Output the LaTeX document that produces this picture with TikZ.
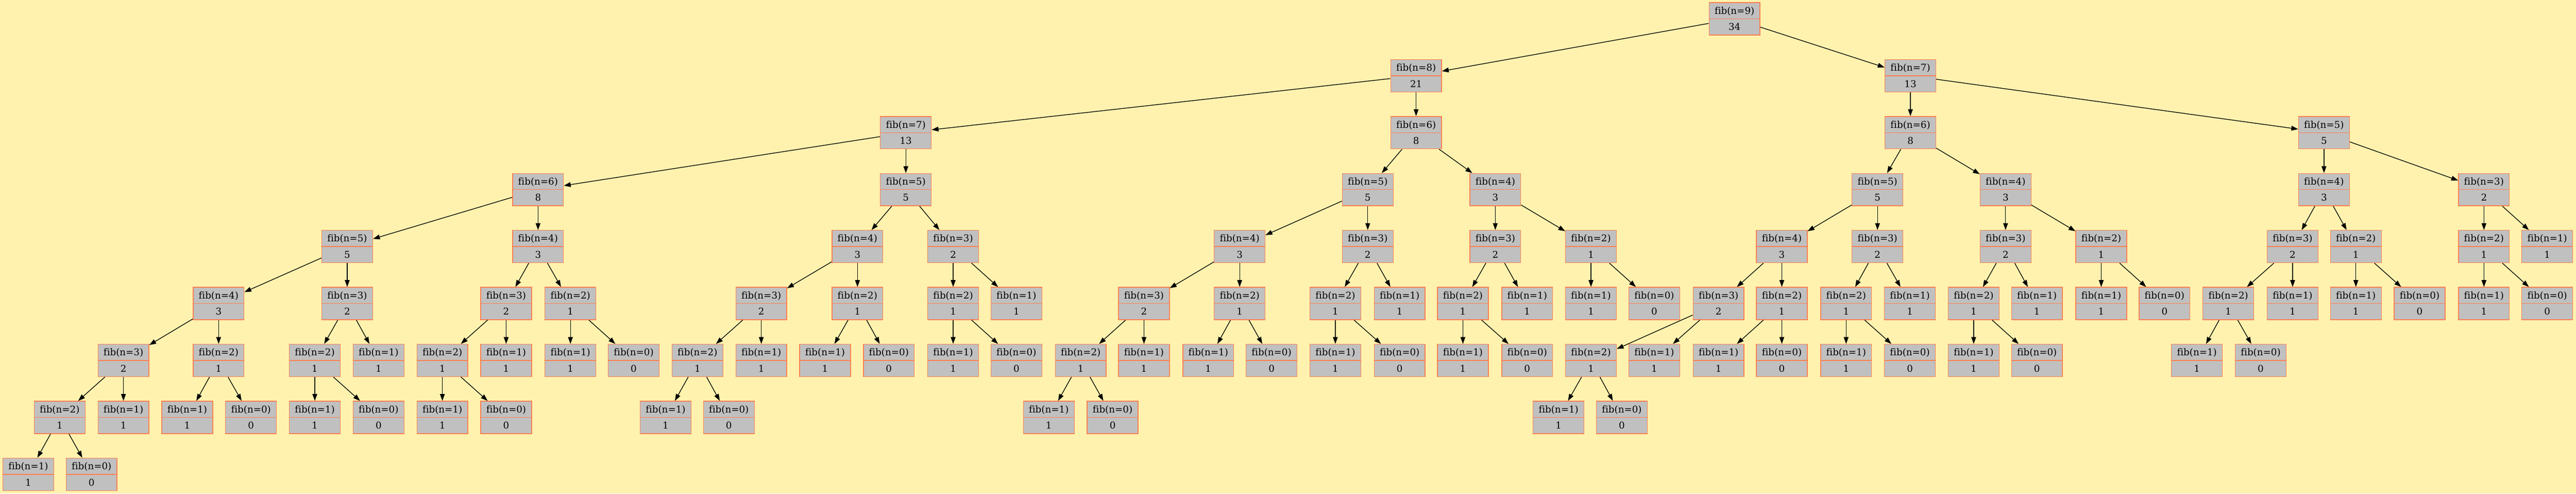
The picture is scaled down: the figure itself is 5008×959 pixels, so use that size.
\documentclass[tikz,border=0pt]{standalone}
\usepackage{fontspec}
\newfontfamily\fibfont{DejaVu Serif}[Ligatures=NoCommon]
\usetikzlibrary{shapes.multipart,arrows.meta}
\definecolor{bgyellow}{HTML}{FFF2AE}
\definecolor{boxgray}{HTML}{C0C0C0}
\definecolor{boxline}{HTML}{FF7F50}
\tikzset{
  fibbox/.style={rectangle split, rectangle split parts=2, draw=boxline, fill=boxgray,
    line width=1.33pt, minimum width=99pt, inner xsep=0pt, inner ysep=0pt,
    font=\fibfont\fontsize{18.3pt}{22pt}\selectfont},
  fibedge/.style={draw=black, line width=1.33pt, -{Triangle[length=13.3pt,width=9.3pt]}}
}
\newcommand\fibnode[5]{\node[fibbox] (#1) at (#2,{36.5+110.6*#3}) {\rule[-8.6pt]{0pt}{30.15pt}fib(n=#4)\nodepart{two}\rule[-8.6pt]{0pt}{30.15pt}#5};}
\begin{document}
\begin{tikzpicture}[x=1pt,y=-1pt]
\fill[bgyellow] (0,0) rectangle (5008,959);
\useasboundingbox (0,0) rectangle (5008,959);
% level 0
\fibnode{r}{3372}{0}{9}{34}
% level 1
\fibnode{ra}{2753}{1}{8}{21}
\fibnode{rb}{3714}{1}{7}{13}
% level 2
\fibnode{raa}{1761}{2}{7}{13}
\fibnode{rab}{2753}{2}{6}{8}
\fibnode{rba}{3714}{2}{6}{8}
\fibnode{rbb}{4518}{2}{5}{5}
% level 3
\fibnode{raaa}{1046}{3}{6}{8}
\fibnode{raab}{1761}{3}{5}{5}
\fibnode{raba}{2659}{3}{5}{5}
\fibnode{rabb}{2907}{3}{4}{3}
\fibnode{rbaa}{3650}{3}{5}{5}
\fibnode{rbab}{3899}{3}{4}{3}
\fibnode{rbba}{4518}{3}{4}{3}
\fibnode{rbbb}{4829}{3}{3}{2}
% level 4
\fibnode{raaaa}{675}{4}{5}{5}
\fibnode{raaab}{1046}{4}{4}{3}
\fibnode{raaba}{1667}{4}{4}{3}
\fibnode{raabb}{1853}{4}{3}{2}
\fibnode{rabaa}{2410}{4}{4}{3}
\fibnode{rabab}{2659}{4}{3}{2}
\fibnode{rabba}{2907}{4}{3}{2}
\fibnode{rabbb}{3093}{4}{2}{1}
\fibnode{rbaaa}{3464}{4}{4}{3}
\fibnode{rbaab}{3650}{4}{3}{2}
\fibnode{rbaba}{3899}{4}{3}{2}
\fibnode{rbabb}{4085}{4}{2}{1}
\fibnode{rbbaa}{4457}{4}{3}{2}
\fibnode{rbbab}{4580}{4}{2}{1}
\fibnode{rbbba}{4829}{4}{2}{1}
\fibnode{rbbbb}{4952}{4}{1}{1}
% level 5
\fibnode{raaaaa}{425}{5}{4}{3}
\fibnode{raaaab}{675}{5}{3}{2}
\fibnode{raaaba}{984}{5}{3}{2}
\fibnode{raaabb}{1109}{5}{2}{1}
\fibnode{raabaa}{1480}{5}{3}{2}
\fibnode{raabab}{1667}{5}{2}{1}
\fibnode{raabba}{1853}{5}{2}{1}
\fibnode{raabbb}{1976}{5}{1}{1}
\fibnode{rabaaa}{2224}{5}{3}{2}
\fibnode{rabaab}{2410}{5}{2}{1}
\fibnode{rababa}{2596}{5}{2}{1}
\fibnode{rababb}{2721}{5}{1}{1}
\fibnode{rabbaa}{2844}{5}{2}{1}
\fibnode{rabbab}{2969}{5}{1}{1}
\fibnode{rabbba}{3093}{5}{1}{1}
\fibnode{rabbbb}{3216}{5}{0}{0}
\fibnode{rbaaaa}{3341}{5}{3}{2}
\fibnode{rbaaab}{3464}{5}{2}{1}
\fibnode{rbaaba}{3589}{5}{2}{1}
\fibnode{rbaabb}{3713}{5}{1}{1}
\fibnode{rbabaa}{3837}{5}{2}{1}
\fibnode{rbabab}{3960}{5}{1}{1}
\fibnode{rbabba}{4085}{5}{1}{1}
\fibnode{rbabbb}{4208}{5}{0}{0}
\fibnode{rbbaaa}{4332}{5}{2}{1}
\fibnode{rbbaab}{4457}{5}{1}{1}
\fibnode{rbbaba}{4580}{5}{1}{1}
\fibnode{rbbabb}{4704}{5}{0}{0}
\fibnode{rbbbaa}{4829}{5}{1}{1}
\fibnode{rbbbab}{4952}{5}{0}{0}
% level 6
\fibnode{raaaaaa}{240}{6}{3}{2}
\fibnode{raaaaab}{425}{6}{2}{1}
\fibnode{raaaaba}{612}{6}{2}{1}
\fibnode{raaaabb}{736}{6}{1}{1}
\fibnode{raaabaa}{860}{6}{2}{1}
\fibnode{raaabab}{984}{6}{1}{1}
\fibnode{raaabba}{1109}{6}{1}{1}
\fibnode{raaabbb}{1232}{6}{0}{0}
\fibnode{raabaaa}{1356}{6}{2}{1}
\fibnode{raabaab}{1480}{6}{1}{1}
\fibnode{raababa}{1604}{6}{1}{1}
\fibnode{raababb}{1728}{6}{0}{0}
\fibnode{raabbaa}{1853}{6}{1}{1}
\fibnode{raabbab}{1976}{6}{0}{0}
\fibnode{rabaaaa}{2101}{6}{2}{1}
\fibnode{rabaaab}{2224}{6}{1}{1}
\fibnode{rabaaba}{2349}{6}{1}{1}
\fibnode{rabaabb}{2472}{6}{0}{0}
\fibnode{rababaa}{2596}{6}{1}{1}
\fibnode{rababab}{2721}{6}{0}{0}
\fibnode{rabbaaa}{2844}{6}{1}{1}
\fibnode{rabbaab}{2969}{6}{0}{0}
\fibnode{rbaaaaa}{3093}{6}{2}{1}
\fibnode{rbaaaab}{3216}{6}{1}{1}
\fibnode{rbaaaba}{3341}{6}{1}{1}
\fibnode{rbaaabb}{3464}{6}{0}{0}
\fibnode{rbaabaa}{3589}{6}{1}{1}
\fibnode{rbaabab}{3713}{6}{0}{0}
\fibnode{rbabaaa}{3837}{6}{1}{1}
\fibnode{rbabaab}{3960}{6}{0}{0}
\fibnode{rbbaaaa}{4271}{6}{1}{1}
\fibnode{rbbaaab}{4395}{6}{0}{0}
% level 7
\fibnode{raaaaaaa}{116}{7}{2}{1}
\fibnode{raaaaaab}{240}{7}{1}{1}
\fibnode{raaaaaba}{364}{7}{1}{1}
\fibnode{raaaaabb}{488}{7}{0}{0}
\fibnode{raaaabaa}{612}{7}{1}{1}
\fibnode{raaaabab}{736}{7}{0}{0}
\fibnode{raaabaaa}{860}{7}{1}{1}
\fibnode{raaabaab}{984}{7}{0}{0}
\fibnode{raabaaaa}{1294}{7}{1}{1}
\fibnode{raabaaab}{1417}{7}{0}{0}
\fibnode{rabaaaaa}{2039}{7}{1}{1}
\fibnode{rabaaaab}{2163}{7}{0}{0}
\fibnode{rbaaaaaa}{3030}{7}{1}{1}
\fibnode{rbaaaaab}{3153}{7}{0}{0}
% level 8
\fibnode{raaaaaaaa}{55}{8}{1}{1}
\fibnode{raaaaaaab}{178}{8}{0}{0}
% edges
\foreach \p in {r,ra,rb,raa,rab,rba,rbb,
  raaa,raab,raba,rabb,rbaa,rbab,rbba,rbbb,
  raaaa,raaab,raaba,raabb,rabaa,rabab,rabba,rabbb,rbaaa,rbaab,rbaba,rbabb,rbbaa,rbbab,rbbba,
  raaaaa,raaaab,raaaba,raaabb,raabaa,raabab,raabba,rabaaa,rabaab,rababa,rabbaa,rbaaaa,rbaaab,rbaaba,rbabaa,rbbaaa,
  raaaaaa,raaaaab,raaaaba,raaabaa,raabaaa,rabaaaa,rbaaaaa,
  raaaaaaa}{
  \draw[fibedge] (\p) -- (\p a);
  \draw[fibedge] (\p) -- (\p b);
}
\end{tikzpicture}
\end{document}
